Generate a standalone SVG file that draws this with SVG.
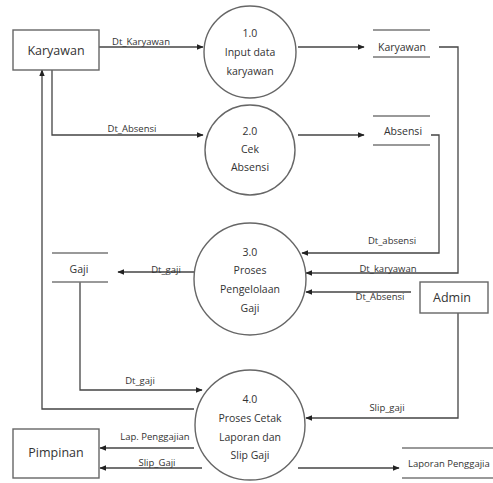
<svg xmlns="http://www.w3.org/2000/svg" width="493" height="483" viewBox="0 0 493 483">
<style>
.box{fill:#fff;stroke:#666;stroke-width:1.4}
.store{stroke:#777;stroke-width:1.4}
.flow{fill:none;stroke:#444;stroke-width:1.3}
.t{font-family:"Open Sans","Liberation Sans",sans-serif;fill:#333;text-anchor:middle}
.n{font-size:12.5px}
.c{font-size:10.5px}
.l{font-size:9.5px}
</style>
<defs>
<marker id="ah" viewBox="0 0 10 10" refX="9" refY="5" markerWidth="7" markerHeight="7" markerUnits="userSpaceOnUse" orient="auto">
<path d="M0,1 L10,5 L0,9 z" fill="#222"/>
</marker>
</defs>
<rect width="493" height="483" fill="#fff"/>
<g id="connectors">
<path class="flow" d="M99,47 H203" marker-end="url(#ah)"/>
<path class="flow" d="M52,70 V135 H203" marker-end="url(#ah)"/>
<path class="flow" d="M298,47 H364" marker-end="url(#ah)"/>
<path class="flow" d="M298,135 H364" marker-end="url(#ah)"/>
<path class="flow" d="M439,47 H458 V273 H306" marker-end="url(#ah)"/>
<path class="flow" d="M431,135 H439 V253 H302" marker-end="url(#ah)"/>
<path class="flow" d="M411,292 H306" marker-end="url(#ah)"/>
<path class="flow" d="M194,272 H118" marker-end="url(#ah)"/>
<path class="flow" d="M80,282 V390 H202" marker-end="url(#ah)"/>
<path class="flow" d="M194,409 H42 V70" marker-end="url(#ah)"/>
<path class="flow" d="M458,313 V418 H306" marker-end="url(#ah)"/>
<path class="flow" d="M194,448 H100" marker-end="url(#ah)"/>
<path class="flow" d="M202,468 H100" marker-end="url(#ah)"/>
<path class="flow" d="M298,468 H399" marker-end="url(#ah)"/>
<text class="t l" x="141" y="45">Dt_Karyawan</text>
<text class="t l" x="132" y="132">Dt_Absensi</text>
<text class="t l" x="392" y="244">Dt_absensi</text>
<text class="t l" x="388" y="272">Dt_karyawan</text>
<text class="t l" x="380" y="300">Dt_Absensi</text>
<text class="t l" x="166" y="273">Dt_gaji</text>
<text class="t l" x="140" y="384">Dt_gaji</text>
<text class="t l" x="387" y="411">Slip_gaji</text>
<text class="t l" x="155" y="440">Lap. Penggajian</text>
<text class="t l" x="157" y="466">Slip_Gaji</text>
</g>
<g id="karyawan">
<rect class="box" x="13" y="30" width="86" height="40"/>
<text class="t n" x="56" y="55">Karyawan</text>
</g>
<g id="p1">
<circle class="box" cx="250" cy="52" r="46"/>
<text class="t c" x="250" y="37">1.0</text>
<text class="t c" x="250" y="56">Input data</text>
<text class="t c" x="250" y="75">karyawan</text>
</g>
<g id="p2">
<circle class="box" cx="250" cy="150" r="45"/>
<text class="t c" x="250" y="135">2.0</text>
<text class="t c" x="250" y="153">Cek</text>
<text class="t c" x="250" y="171">Absensi</text>
</g>
<g id="p3">
<circle class="box" cx="250" cy="279" r="56"/>
<text class="t c" x="250" y="256">3.0</text>
<text class="t c" x="250" y="274">Proses</text>
<text class="t c" x="250" y="293">Pengelolaan</text>
<text class="t c" x="250" y="312">Gaji</text>
</g>
<g id="p4">
<circle class="box" cx="250" cy="425" r="55"/>
<text class="t c" x="250" y="403">4.0</text>
<text class="t c" x="250" y="422">Proses Cetak</text>
<text class="t c" x="250" y="441">Laporan dan</text>
<text class="t c" x="250" y="459">Slip Gaji</text>
</g>
<g id="ds-karyawan">
<line class="store" x1="373" y1="30" x2="430" y2="30"/>
<line class="store" x1="373" y1="57" x2="430" y2="57"/>
<text class="t c" x="402" y="51">Karyawan</text>
</g>
<g id="ds-absensi">
<line class="store" x1="373" y1="116" x2="430" y2="116"/>
<line class="store" x1="373" y1="145" x2="430" y2="145"/>
<text class="t c" x="403" y="135">Absensi</text>
</g>
<g id="ds-gaji">
<line class="store" x1="52" y1="253" x2="108" y2="253"/>
<line class="store" x1="52" y1="282" x2="108" y2="282"/>
<text class="t c" x="79" y="273">Gaji</text>
</g>
<g id="admin">
<rect class="box" x="420" y="282" width="68" height="31"/>
<text class="t n" x="452" y="302">Admin</text>
</g>
<g id="pimpinan">
<rect class="box" x="13" y="429" width="86" height="49"/>
<text class="t n" x="56" y="457">Pimpinan</text>
</g>
<g id="ds-laporan">
<line class="store" x1="402" y1="448" x2="493" y2="448"/>
<line class="store" x1="402" y1="478" x2="493" y2="478"/>
<text class="t l" x="408" y="467" style="text-anchor:start">Laporan Penggajia</text>
</g>
</svg>
